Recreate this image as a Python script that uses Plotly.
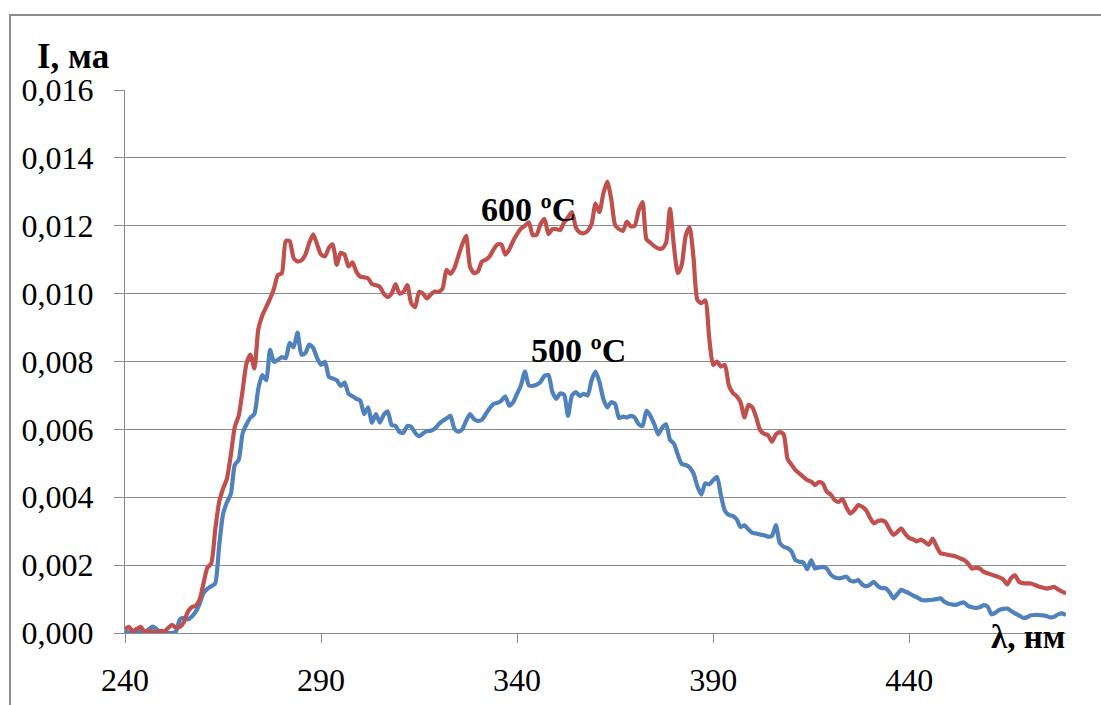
import plotly.graph_objects as go

# Wavelength grid, nm
wavelength = list(range(240, 481))

# Photocurrent, mA (x 1e-3), film annealed at 600 ºC
current_600 = [
    0.12, 0.18, 0.05, 0.12, 0.18, 0.03, 0.06, 0.05, 0.02, 0.06,   # 240-249
    0.05, 0.15, 0.24, 0.16, 0.18, 0.32, 0.62, 0.76, 0.80, 0.98,   # 250-259
    1.45, 1.92, 2.05, 3.03, 3.85, 4.25, 4.55, 5.25, 6.07, 6.40,   # 260-269
    7.15, 7.95, 8.20, 7.80, 8.95, 9.35, 9.60, 9.85, 10.15, 10.55, # 270-279
    10.60, 11.55, 11.55, 11.05, 10.95, 10.98, 11.15, 11.50, 11.75, 11.45,  # 280-289
    11.15, 11.10, 11.35, 11.45, 10.85, 11.20, 11.15, 10.80, 10.92, 10.65,  # 290-299
    10.50, 10.48, 10.45, 10.28, 10.25, 10.20, 10.00, 9.90, 10.00, 10.28,   # 300-309
    10.00, 10.05, 10.25, 9.72, 9.60, 10.05, 10.00, 9.86, 9.98, 10.06,      # 310-319
    10.05, 10.15, 10.70, 10.58, 10.75, 11.10, 11.45, 11.70, 10.79, 10.60,  # 320-329
    10.65, 10.94, 11.00, 11.10, 11.30, 11.45, 11.45, 11.15, 11.30, 11.55,  # 330-339
    11.75, 11.92, 12.00, 12.10, 11.72, 11.74, 12.05, 12.20, 11.75, 11.90,  # 340-349
    11.90, 11.88, 12.10, 12.25, 12.40, 11.95, 11.80, 11.78, 11.85, 12.05,  # 350-359
    12.65, 12.40, 12.95, 13.30, 12.80, 12.02, 11.90, 11.85, 12.12, 11.98,  # 360-369
    12.00, 12.45, 12.70, 11.60, 11.50, 11.40, 11.33, 11.33, 11.50, 12.50,  # 370-379
    11.40, 10.60, 10.85, 11.70, 11.95, 11.05, 9.81, 9.72, 9.80, 8.70,      # 380-389
    7.90, 8.00, 7.85, 7.90, 7.30, 7.08, 6.98, 6.80, 6.35, 6.72,            # 390-399
    6.65, 6.35, 5.98, 5.87, 5.83, 5.64, 5.85, 5.92, 5.85, 5.12,            # 400-409
    4.96, 4.80, 4.70, 4.60, 4.51, 4.46, 4.36, 4.45, 4.40, 4.16,            # 410-419
    4.08, 3.92, 3.86, 3.95, 3.70, 3.52, 3.62, 3.77, 3.72, 3.62,            # 420-429
    3.40, 3.23, 3.30, 3.32, 3.26, 3.05, 2.89, 2.98, 3.08, 2.92,            # 430-439
    2.80, 2.76, 2.70, 2.75, 2.68, 2.60, 2.78, 2.55, 2.35, 2.33,            # 440-449
    2.30, 2.28, 2.25, 2.20, 2.15, 2.05, 1.90, 1.92, 1.90, 1.80,            # 450-459
    1.76, 1.72, 1.68, 1.64, 1.58, 1.43, 1.62, 1.70, 1.51, 1.47,            # 460-469
    1.46, 1.46, 1.42, 1.37, 1.34, 1.31, 1.33, 1.36, 1.28, 1.22,            # 470-479
    1.17,                                                                  # 480
]

# Photocurrent, mA (x 1e-3), film annealed at 500 ºC
current_500 = [
    0.05, 0.02, 0.02, 0.04, 0.06, 0.03, 0.10, 0.19, 0.12, 0.03,   # 240-249
    0.00, 0.00, 0.00, 0.05, 0.40, 0.45, 0.40, 0.48, 0.62, 0.85,   # 250-259
    1.17, 1.30, 1.38, 1.46, 2.55, 3.50, 3.85, 4.10, 4.95, 5.10,   # 260-269
    5.88, 6.15, 6.35, 6.45, 7.20, 7.60, 7.45, 8.34, 7.99, 8.05,   # 270-279
    8.13, 8.10, 8.55, 8.42, 8.85, 8.20, 8.25, 8.50, 8.40, 8.10,   # 280-289
    7.90, 7.99, 7.55, 7.50, 7.45, 7.28, 7.38, 7.05, 6.98, 6.90,   # 290-299
    6.85, 6.45, 6.65, 6.20, 6.45, 6.20, 6.43, 6.53, 6.13, 6.10,   # 300-309
    5.92, 5.90, 6.10, 6.08, 5.90, 5.80, 5.88, 5.95, 5.96, 6.02,   # 310-319
    6.15, 6.25, 6.32, 6.40, 6.02, 5.93, 6.00, 6.25, 6.45, 6.30,   # 320-329
    6.25, 6.28, 6.45, 6.62, 6.75, 6.78, 6.85, 6.97, 6.70, 6.80,   # 330-339
    7.05, 7.30, 7.70, 7.30, 7.28, 7.32, 7.40, 7.58, 7.60, 7.10,   # 340-349
    6.90, 7.06, 7.02, 6.40, 7.00, 7.10, 6.98, 7.05, 7.00, 7.45,   # 350-359
    7.70, 7.40, 6.90, 6.65, 6.80, 6.75, 6.33, 6.38, 6.35, 6.40,   # 360-369
    6.35, 6.15, 6.10, 6.55, 6.40, 6.15, 5.85, 6.05, 6.15, 5.69,   # 370-379
    5.58, 5.25, 4.98, 4.95, 4.88, 4.70, 4.32, 4.08, 4.41, 4.38,   # 380-389
    4.50, 4.60, 4.05, 3.60, 3.48, 3.45, 3.35, 3.12, 3.17, 3.05,   # 390-399
    2.95, 2.93, 2.90, 2.88, 2.84, 2.86, 3.18, 2.65, 2.54, 2.50,   # 400-409
    2.40, 2.15, 2.10, 2.08, 1.88, 2.15, 1.90, 1.93, 1.95, 1.90,   # 410-419
    1.72, 1.64, 1.61, 1.63, 1.66, 1.54, 1.52, 1.56, 1.43, 1.38,   # 420-429
    1.42, 1.51, 1.38, 1.32, 1.32, 1.20, 1.02, 1.15, 1.27, 1.22,   # 430-439
    1.17, 1.10, 1.05, 0.98, 0.96, 0.97, 0.98, 1.00, 1.02, 0.92,   # 440-449
    0.86, 0.84, 0.83, 0.88, 0.90, 0.80, 0.76, 0.74, 0.76, 0.82,   # 450-459
    0.78, 0.55, 0.60, 0.68, 0.71, 0.72, 0.65, 0.58, 0.52, 0.45,   # 460-469
    0.46, 0.52, 0.53, 0.53, 0.52, 0.50, 0.46, 0.48, 0.55, 0.58,   # 470-479
    0.53,                                                         # 480
]

x_tick_values = [240, 290, 340, 390, 440]
y_tick_values = [0.000, 0.002, 0.004, 0.006, 0.008, 0.010, 0.012, 0.014, 0.016]

series_labels = ["500 ºC", "600 ºC"]
label_positions = [(355.6, 0.00832), (342.8, 0.01248)]

RED = "#C0504D"
BLUE = "#4F81BD"
GRID = "#8A8A8A"
SERIF = "Times New Roman, Liberation Serif, serif"

fig = go.Figure()
fig.add_trace(go.Scatter(
    x=wavelength, y=[v * 1e-3 for v in current_500], mode="lines",
    line=dict(color=BLUE, width=4.2, shape="spline", smoothing=0.6),
    name=series_labels[0], showlegend=False,
))
fig.add_trace(go.Scatter(
    x=wavelength, y=[v * 1e-3 for v in current_600], mode="lines",
    line=dict(color=RED, width=4.2, shape="spline", smoothing=0.6),
    name=series_labels[1], showlegend=False,
))

for text, (lx, ly) in zip(series_labels, label_positions):
    fig.add_annotation(
        x=lx, y=ly, xref="x", yref="y", text=f"<b>{text}</b>", showarrow=False,
        xanchor="center", yanchor="middle",
        font=dict(family=SERIF, size=34, color="black"),
    )

# Axis captions
fig.add_annotation(
    x=-0.0956, y=1.062, xref="paper", yref="paper", text="<b>I, ма</b>",
    showarrow=False, xanchor="left", yanchor="middle",
    font=dict(family=SERIF, size=35, color="black"),
)
fig.add_annotation(
    x=1.001, y=-0.008, xref="paper", yref="paper", text="<b>λ, нм</b>",
    showarrow=False, xanchor="right", yanchor="middle",
    font=dict(family=SERIF, size=33, color="black"),
)

# Chart-area frame
fig.add_shape(
    type="rect", xref="paper", yref="paper",
    x0=(10 - 125) / 941, x1=1.2, y0=-0.3, y1=(633 - 15) / 543,
    line=dict(color="#8C8C8C", width=2), layer="below",
)

fig.update_xaxes(
    range=[240, 480], tickvals=x_tick_values, ticks="outside", ticklen=9,
    tickcolor=GRID, tickwidth=1.3, showgrid=False, zeroline=False,
    showline=True, linecolor=GRID, linewidth=1.3, automargin=False,
    tickfont=dict(family=SERIF, size=32, color="black"), ticklabelstandoff=9,
)
fig.update_yaxes(
    range=[0, 0.016], tickvals=y_tick_values, tickformat=".3f",
    ticks="outside", ticklen=10, tickcolor=GRID, tickwidth=1.3,
    showgrid=True, gridcolor=GRID, gridwidth=1.3, zeroline=False,
    showline=True, linecolor=GRID, linewidth=1.3, automargin=False,
    tickfont=dict(family=SERIF, size=32, color="black"), ticklabelstandoff=14,
)

fig.update_layout(
    width=1101, height=705, separators=", ",
    margin=dict(l=125, r=35, t=90, b=72, pad=0),
    paper_bgcolor="white", plot_bgcolor="white",
)

fig.write_html("out.html")
